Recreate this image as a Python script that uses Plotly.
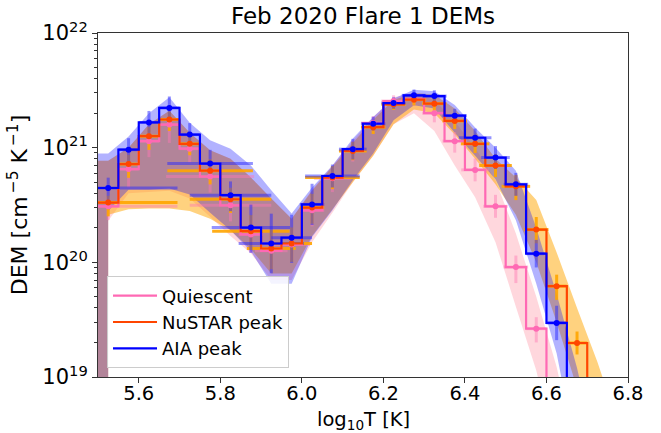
import plotly.graph_objects as go

# ---------------- data ----------------
logt = [5.525, 5.575, 5.625, 5.675, 5.725, 5.775, 5.825, 5.875, 5.925, 5.975,
        6.025, 6.075, 6.125, 6.175, 6.225, 6.275, 6.325, 6.375, 6.425, 6.475,
        6.525, 6.575, 6.625, 6.675, 6.725, 6.775]

quiet = [3.08e20, 6.5e20, 1.14e21, 1.59e21, 9.8e20, 5.6e20, 3.14e20, 1.75e20, 1.26e20, 1.43e20,
         2.84e20, 5.4e20, 9.5e20, 1.64e21, 2.55e21, 2.65e21, 2.0e21, 1.14e21, 6.4e20, 3.08e20,
         9.1e19, 2.64e19, 5e18, 1e18, 2e17, 5e16]
nustar = [3.32e20, 7.2e20, 1.26e21, 1.76e21, 1.08e21, 6.3e20, 3.55e20, 1.87e20, 1.32e20, 1.46e20,
          3.0e20, 5.48e20, 9.35e20, 1.51e21, 2.39e21, 2.62e21, 2.42e21, 1.71e21, 1.08e21, 6.98e20,
          4.6e20, 1.93e20, 6.2e19, 1.98e19, 5e18, 1e18]
aia = [4.45e20, 9.6e20, 1.66e21, 2.22e21, 1.30e21, 7.26e20, 3.85e20, 2.01e20, 1.46e20, 1.64e20,
       3.2e20, 5.66e20, 9.7e20, 1.62e21, 2.45e21, 2.86e21, 2.82e21, 1.9e21, 1.22e21, 8.2e20,
       4.79e20, 1.19e20, 2.96e19, 6e18, 1e18, 2e17]

# horizontal (temperature) half-widths
quiet_xerr = [0.17, 0.025, 0.025, 0.025, 0.025, 0.108, 0.1, 0.03, 0.04, 0.045,
              0.03, 0.045, 0.03, 0.03, 0.03, 0.03, 0.03, 0.03, 0.034, 0.03,
              0.03, 0.025, 0.025, 0.025, 0.025, 0.025]
nustar_xerr = [0.17, 0.025, 0.025, 0.025, 0.025, 0.105, 0.1, 0.095, 0.06, 0.05,
               0.03, 0.067, 0.034, 0.03, 0.03, 0.03, 0.03, 0.03, 0.035, 0.04,
               0.035, 0.03, 0.025, 0.025, 0.025, 0.025]
aia_xerr = [0.17, 0.025, 0.025, 0.025, 0.025, 0.105, 0.1, 0.096, 0.08, 0.05,
            0.03, 0.067, 0.034, 0.03, 0.03, 0.03, 0.03, 0.03, 0.04, 0.035,
            0.03, 0.025, 0.025, 0.025, 0.025, 0.025]

# vertical error bars (dex above / below)
quiet_up = [0.08, 0.08, 0.08, 0.07, 0.08, 0.1, 0.1, 0.12, 0.14, 0.12,
            0.12, 0.1, 0.08, 0.06, 0.05, 0.05, 0.06, 0.08, 0.1, 0.1,
            0.1, 0.1, 0.1, 0.1, 0.1, 0.1]
quiet_dn = [0.12, 0.16, 0.14, 0.16, 0.12, 0.14, 0.14, 0.16, 0.16, 0.14,
            0.14, 0.12, 0.1, 0.08, 0.06, 0.06, 0.08, 0.1, 0.1, 0.1,
            0.14, 0.12, 0.1, 0.1, 0.1, 0.1]
nustar_up = [0.06, 0.08, 0.08, 0.07, 0.08, 0.1, 0.1, 0.14, 0.16, 0.14,
             0.12, 0.1, 0.08, 0.06, 0.05, 0.05, 0.06, 0.07, 0.08, 0.1,
             0.1, 0.11, 0.1, 0.1, 0.1, 0.1]
nustar_dn = [0.12, 0.12, 0.12, 0.1, 0.1, 0.12, 0.12, 0.16, 0.18, 0.16,
             0.14, 0.1, 0.08, 0.06, 0.05, 0.05, 0.06, 0.07, 0.08, 0.1,
             0.12, 0.12, 0.12, 0.1, 0.1, 0.1]
aia_up = [0.09, 0.1, 0.1, 0.1, 0.1, 0.12, 0.12, 0.2, 0.26, 0.2,
          0.18, 0.1, 0.09, 0.06, 0.05, 0.05, 0.05, 0.06, 0.08, 0.1,
          0.1, 0.12, 0.15, 0.1, 0.1, 0.1]
aia_dn = [0.11, 0.12, 0.1, 0.1, 0.1, 0.12, 0.14, 0.22, 0.26, 0.22,
          0.18, 0.1, 0.09, 0.06, 0.05, 0.05, 0.05, 0.06, 0.08, 0.1,
          0.1, 0.12, 0.15, 0.1, 0.1, 0.1]

# shaded uncertainty envelopes
quiet_hi = [7.7e20, 1.0e21, 1.6e21, 2.1e21, 1.35e21, 9.5e20, 8.0e20, 5.5e20, 3.6e20, 2.4e20,
            4.3e20, 7.0e20, 1.15e21, 1.85e21, 2.75e21, 3.0e21, 2.6e21, 1.7e21, 1.0e21, 5.2e20,
            1.78e20, 5.0e19, 1.22e19, 2e18, 3e17, 5e16]
quiet_lo = [2.3e20, 4.0e20, 4.1e20, 4.2e20, 3.6e20, 2.5e20, 1.7e20, 1.2e20, 7e19, 7e19,
            1.5e20, 2.7e20, 5.0e20, 8.5e20, 1.6e21, 2.0e21, 1.4e21, 7.0e20, 3.7e20, 1.5e20,
            4.1e19, 1.14e19, 2e18, 3e17, 5e16, 1e16]
nustar_hi = [7.7e20, 1.0e21, 1.6e21, 2.1e21, 1.35e21, 9.5e20, 8.0e20, 5.5e20, 3.6e20, 2.4e20,
             4.2e20, 6.8e20, 1.1e21, 1.75e21, 2.6e21, 3.0e21, 2.9e21, 2.2e21, 1.4e21, 8.0e20,
             5.5e20, 3.5e20, 1.22e20, 4.0e19, 1.35e19, 4e18]
nustar_lo = [2.6e20, 2.9e20, 2.95e20, 2.95e20, 2.8e20, 2.4e20, 1.9e20, 1.3e20, 8e19, 8e19,
             1.7e20, 2.9e20, 5.0e20, 8.5e20, 1.6e21, 2.15e21, 2.0e21, 1.3e21, 8.0e20, 4.8e20,
             2.6e20, 1.0e20, 3.0e19, 8e18, 2e18, 4e17]
aia_hi = [8.9e20, 1.25e21, 2.0e21, 2.75e21, 1.65e21, 1.16e21, 9.8e20, 7.0e20, 4.25e20, 2.66e20,
          4.5e20, 7.0e20, 1.2e21, 1.85e21, 2.68e21, 3.2e21, 3.1e21, 2.35e21, 1.5e21, 1.0e21,
          6.3e20, 2.0e20, 5.3e19, 1.2e19, 2e18, 3e17]
aia_lo = [2.8e20, 4.3e20, 4.3e20, 4.4e20, 3.9e20, 2.7e20, 1.9e20, 1.25e20, 6.5e19, 6.5e19,
          1.66e20, 2.84e20, 5.2e20, 8.9e20, 1.73e21, 2.34e21, 2.2e21, 1.35e21, 8.5e20, 5.3e20,
          2.33e20, 6.5e19, 1.6e19, 2e18, 3e17, 5e16]

series_names = ["Quiescent", "NuSTAR peak", "AIA peak"]
t_start = 5.5
floor_val = 1e16

x_tickvals = [5.6, 5.8, 6.0, 6.2, 6.4, 6.6, 6.8]
x_ticktext = ["5.6", "5.8", "6.0", "6.2", "6.4", "6.6", "6.8"]
y_tickvals = [1e19, 1e20, 1e21, 1e22]
y_ticktext = ["10<sup>19</sup>", "10<sup>20</sup>", "10<sup>21</sup>", "10<sup>22</sup>"]

# ---------------- styles ----------------
line_cols = ["#ff69b4", "#ff4500", "#0000ff"]
err_cols = ["rgba(255,120,180,0.45)", "rgba(255,165,0,0.9)", "rgba(40,40,255,0.5)"]
band_cols = ["rgba(255,182,193,0.55)", "rgba(255,165,0,0.5)", "rgba(0,0,255,0.3)"]

vals = [quiet, nustar, aia]
xerrs = [quiet_xerr, nustar_xerr, aia_xerr]
ups = [quiet_up, nustar_up, aia_up]
dns = [quiet_dn, nustar_dn, aia_dn]
his = [quiet_hi, nustar_hi, aia_hi]
los = [quiet_lo, nustar_lo, aia_lo]

fig = go.Figure()

# bands
for i in range(3):
    hi, lo = his[i], los[i]
    xb = [t_start, logt[0]] + logt
    hib = [hi[0], hi[0]] + hi
    lob = [floor_val, floor_val] + lo
    fig.add_trace(go.Scatter(
        x=xb + xb[::-1], y=hib + lob[::-1], fill="toself", mode="none",
        fillcolor=band_cols[i], showlegend=False, hoverinfo="skip"))

# error bars
for i in range(3):
    v = vals[i]
    eu = [y * (10 ** u) - y for y, u in zip(v, ups[i])]
    ed = [y - y * (10 ** (-d)) for y, d in zip(v, dns[i])]
    fig.add_trace(go.Scatter(
        x=logt, y=v, mode="markers",
        marker=dict(size=1, color="rgba(0,0,0,0)"),
        error_x=dict(type="data", array=xerrs[i], color=err_cols[i], thickness=3, width=0),
        error_y=dict(type="data", array=eu, arrayminus=ed, symmetric=False,
                     color=err_cols[i], thickness=3, width=0),
        showlegend=False, hoverinfo="skip"))

# step lines
for i in range(3):
    v = vals[i]
    fig.add_trace(go.Scatter(
        x=[t_start] + logt, y=[v[0]] + v, mode="lines",
        line=dict(color=line_cols[i], width=2.2, shape="hvh"),
        name=series_names[i]))

# markers
for i in range(3):
    fig.add_trace(go.Scatter(
        x=logt, y=vals[i], mode="markers",
        marker=dict(size=6, color=line_cols[i]),
        showlegend=False, hoverinfo="skip"))

minor_vals = [k * 10.0 ** e for e in (19, 20, 21) for k in range(2, 10)]

fig.update_layout(
    width=661, height=433,
    margin=dict(l=98, r=33, t=33, b=56),
    paper_bgcolor="white", plot_bgcolor="white",
    font=dict(family="DejaVu Sans", size=20, color="black"),
    title=dict(text="Feb 2020 Flare 1 DEMs", x=0.5, xref="paper",
               y=1 - 16 / 433, yref="container", yanchor="middle",
               font=dict(size=23)),
    showlegend=True,
    legend=dict(x=0.017, y=0.025, xanchor="left", yanchor="bottom",
                bgcolor="rgba(255,255,255,0.85)", bordercolor="#cccccc", borderwidth=1,
                font=dict(size=18), itemwidth=44),
    xaxis=dict(range=[5.5, 6.8], tickvals=x_tickvals, ticktext=x_ticktext,
               ticks="outside", ticklen=5, tickcolor="#333", automargin=False,
               tickfont=dict(size=19.5), ticklabelstandoff=-6,
               showline=True, linecolor="#333", linewidth=1, mirror=True,
               showgrid=False, zeroline=False),
    yaxis=dict(type="log", range=[19, 22],
               tickvals=y_tickvals, ticktext=y_ticktext,
               ticks="outside", ticklen=5, tickcolor="#333", automargin=False,
               tickfont=dict(size=21),
               minor=dict(tickvals=minor_vals, ticks="outside", ticklen=3, tickcolor="#333", showgrid=False),
               showline=True, linecolor="#333", linewidth=1, mirror=True,
               showgrid=False, zeroline=False,
               title=dict(text="DEM [cm<sup>\u2009−5</sup> K<sup>\u2009−1</sup>]",
                          standoff=8, font=dict(size=22))),
    annotations=[dict(text="log<sub>10</sub>T [K]", x=0.5, xref="paper",
                      y=-(420 - 376.7) / 344, yref="paper", yanchor="middle",
                      showarrow=False, font=dict(size=19.5))],
)

fig.write_html("out.html")
